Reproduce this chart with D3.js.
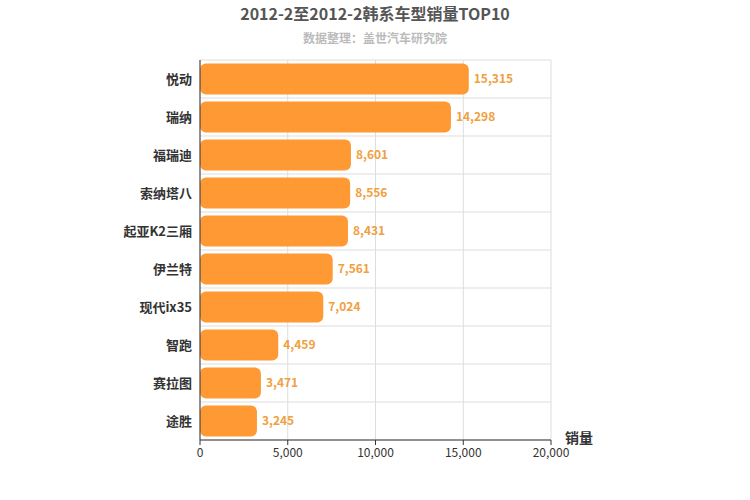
<!DOCTYPE html>
<html><head><meta charset="utf-8">
<script src="https://cdn.jsdelivr.net/npm/d3@7"></script>
<style>body{margin:0;font-family:"Noto Sans CJK SC","Noto Sans",sans-serif;}</style>
</head><body>
<script>
const categories = ["悦动","瑞纳","福瑞迪","索纳塔八","起亚K2三厢","伊兰特","现代ix35","智跑","赛拉图","途胜"];
const values = [15315,14298,8601,8556,8431,7561,7024,4459,3471,3245];
const ticks = [0,5000,10000,15000,20000];

const svg = d3.select("body").append("svg").attr("width",750).attr("height",500);
const x = d3.scaleLinear().domain([0,20000]).range([200,551]);
const y = d3.scaleBand().domain(categories).range([60,440]).paddingInner(0.18).paddingOuter(0.09);
const fmt = d3.format(",");

svg.append("text").attr("x",375).attr("y",20).attr("text-anchor","middle")
  .attr("font-size",16).attr("font-weight","bold").attr("fill","#555").text("2012-2至2012-2韩系车型销量TOP10");
svg.append("text").attr("x",375).attr("y",43).attr("text-anchor","middle")
  .attr("font-size",12).attr("font-weight","bold").attr("fill","#bbb").text("数据整理：盖世汽车研究院");

// grid
svg.append("g").selectAll("line").data(ticks).enter().append("line")
  .attr("x1",d=>x(d)).attr("x2",d=>x(d)).attr("y1",60).attr("y2",440)
  .attr("stroke","#ddd");
svg.append("g").selectAll("line").data(d3.range(11)).enter().append("line")
  .attr("x1",200).attr("x2",551).attr("y1",d=>60+d*38).attr("y2",d=>60+d*38)
  .attr("stroke","#ddd");

svg.append("g").selectAll("rect").data(values).enter().append("rect")
  .attr("x",x(0)).attr("y",(d,i)=>y(categories[i]))
  .attr("width",d=>x(d)-x(0)).attr("height",y.bandwidth())
  .attr("rx",6).attr("fill","#ff9933");

svg.append("g").selectAll("text").data(values).enter().append("text")
  .attr("x",d=>x(d)+5).attr("y",(d,i)=>y(categories[i])+y.bandwidth()/2+4)
  .attr("font-size",12).attr("font-weight","bold").attr("fill","#f0a040").text(d=>fmt(d));

svg.append("g").selectAll("text").data(categories).enter().append("text")
  .attr("x",192).attr("y",d=>y(d)+y.bandwidth()/2+5).attr("text-anchor","end")
  .attr("font-size",13).attr("font-weight","bold").attr("fill","#333").text(d=>d);

svg.append("line").attr("x1",200).attr("x2",200).attr("y1",60).attr("y2",440).attr("stroke","#333");
svg.append("line").attr("x1",200).attr("x2",551).attr("y1",440).attr("y2",440).attr("stroke","#333");
svg.append("g").selectAll("text").data(ticks).enter().append("text")
  .attr("x",d=>x(d)).attr("y",457).attr("text-anchor","middle")
  .attr("font-size",12).attr("fill","#333").text(d=>fmt(d));
svg.append("g").selectAll("line").data(ticks).enter().append("line")
  .attr("x1",d=>x(d)).attr("x2",d=>x(d)).attr("y1",440).attr("y2",445).attr("stroke","#333");

svg.append("text").attr("x",565).attr("y",443).attr("font-size",14).attr("font-weight","bold")
  .attr("fill","#333").text("销量");
</script>
</body></html>
